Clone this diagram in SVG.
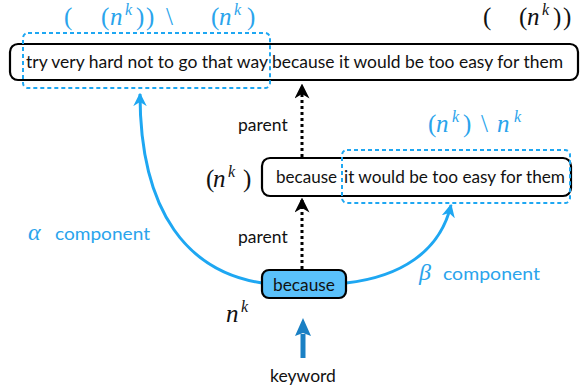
<svg xmlns="http://www.w3.org/2000/svg" width="584" height="391" viewBox="0 0 584 391">
<defs>
<style>
.box{fill:#fff;stroke:#000;stroke-width:2.2}
.dash{fill:none;stroke:#1ea7f2;stroke-width:2;stroke-dasharray:4 3}
.t{font-family:Lato,"Noto Sans",sans-serif;font-size:17.5px;fill:#111}
.bt{font-family:Lato,"Noto Sans",sans-serif;font-size:17.5px;fill:#2aa4ec}
.m{font-family:"Liberation Serif","DejaVu Serif",serif;font-size:25px}
.mi{font-family:"Liberation Serif","DejaVu Serif",serif;font-size:25px;font-style:italic}
.ms{font-family:"Liberation Serif","DejaVu Serif",serif;font-size:16px;font-style:italic}
.blue{fill:#2aa4ec}
.blk{fill:#111}
.dot{stroke:#000;stroke-width:3;stroke-dasharray:3 3;fill:none}
.curve{fill:none;stroke:#1ea7f2;stroke-width:3}
</style>
<marker id="ah" viewBox="0 0 10 10" refX="9" refY="5" markerWidth="5" markerHeight="5" orient="auto" markerUnits="strokeWidth">
<path d="M0,0 L10,5 L0,10 L3,5 Z" fill="#000"/>
</marker>
<marker id="ahb" viewBox="0 0 10 10" refX="9" refY="5" markerWidth="4.5" markerHeight="4.5" orient="auto" markerUnits="strokeWidth">
<path d="M0,0 L10,5 L0,10 L3,5 Z" fill="#1ea7f2"/>
</marker>
</defs>

<g id="connectors">
<line class="dot" x1="302" y1="157" x2="302" y2="85" marker-end="url(#ah)"/>
<line class="dot" x1="302" y1="269" x2="302" y2="199" marker-end="url(#ah)"/>
<path class="curve" d="M262,283 C190,272 140,215 140,94" marker-end="url(#ahb)"/>
<path class="curve" d="M346,283 C400,277 440,252 451,205" marker-end="url(#ahb)"/>
<line x1="303" y1="358" x2="303" y2="334" stroke="#1a80c4" stroke-width="5"/>
<path d="M303,318 L311,336 L303,333 L295,336 Z" fill="#1a80c4"/>
</g>

<g id="top-node">
<rect class="box" x="10" y="44" width="568" height="36" rx="8"/>
<text class="t" x="26" y="68" textLength="242" lengthAdjust="spacingAndGlyphs">try very hard not to go that way</text>
<text class="t" x="272" y="68" textLength="291" lengthAdjust="spacingAndGlyphs">because it would be too easy for them</text>
</g>

<g id="top-span">
<rect class="dash" x="23" y="33" width="247" height="55" rx="5"/>
<text class="m blue" x="64" y="25">(</text>
<text class="m blue" x="101" y="25">(</text>
<text class="mi blue" x="110" y="25">n</text>
<text class="ms blue" x="125" y="15">k</text>
<text class="m blue" x="136" y="25">)</text>
<text class="m blue" x="146" y="25">)</text>
<text class="m blue" x="166" y="25">\</text>
<text class="m blue" x="211" y="25">(</text>
<text class="mi blue" x="219" y="25">n</text>
<text class="ms blue" x="234" y="15">k</text>
<text class="m blue" x="247" y="25">)</text>
</g>

<g id="top-label">
<text class="m blk" x="483" y="25">(</text>
<text class="m blk" x="519" y="25">(</text>
<text class="mi blk" x="527" y="25">n</text>
<text class="ms blk" x="542" y="15">k</text>
<text class="m blk" x="553" y="25">)</text>
<text class="m blk" x="563" y="25">)</text>
</g>

<g id="mid-node">
<rect class="box" x="262" y="158" width="309" height="38" rx="8"/>
<text class="t" x="276" y="183" textLength="61" lengthAdjust="spacingAndGlyphs">because</text>
<text class="t" x="344" y="183" textLength="221" lengthAdjust="spacingAndGlyphs">it would be too easy for them</text>
<text class="m blk" x="206" y="187">(</text>
<text class="mi blk" x="213" y="187">n</text>
<text class="ms blk" x="228" y="177">k</text>
<text class="m blk" x="243" y="187">)</text>
</g>

<g id="mid-span">
<rect class="dash" x="342" y="150" width="228" height="53" rx="5"/>
<text class="m blue" x="428" y="132">(</text>
<text class="mi blue" x="436" y="132">n</text>
<text class="ms blue" x="452" y="122">k</text>
<text class="m blue" x="463" y="132">)</text>
<text class="m blue" x="481" y="132">\</text>
<text class="mi blue" x="497" y="132">n</text>
<text class="ms blue" x="514" y="122">k</text>
</g>

<g id="keyword-node">
<rect x="262" y="270" width="84" height="28" rx="7" fill="#5ac1fb" stroke="#000" stroke-width="2.2"/>
<text class="t" x="304" y="291" text-anchor="middle" textLength="62" lengthAdjust="spacingAndGlyphs">because</text>
<text class="mi blk" x="226" y="322">n</text>
<text class="ms blk" x="241" y="312">k</text>
</g>

<g id="labels">
<text class="t" x="238" y="131">parent</text>
<text class="t" x="238" y="243">parent</text>
<text class="t" x="303" y="382" text-anchor="middle">keyword</text>
<text class="mi blue" x="28" y="240" style="font-size:24px">α</text>
<text class="bt" x="55" y="240" textLength="95" lengthAdjust="spacingAndGlyphs">component</text>
<text class="mi blue" x="419" y="280" style="font-size:24px">β</text>
<text class="bt" x="443" y="280" textLength="97" lengthAdjust="spacingAndGlyphs">component</text>
</g>
</svg>
